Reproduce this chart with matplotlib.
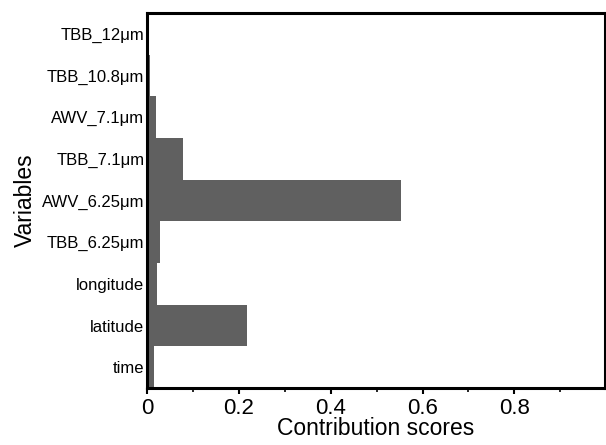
import matplotlib
matplotlib.use('Agg')
import matplotlib.pyplot as plt
from matplotlib.ticker import MultipleLocator

plt.rcParams['font.family'] = ['Liberation Sans', 'DejaVu Sans']

variables = ['time', 'latitude', 'longitude', 'TBB_6.25μm', 'AWV_6.25μm',
             'TBB_7.1μm', 'AWV_7.1μm', 'TBB_10.8μm', 'TBB_12μm']
scores = [0.015, 0.217, 0.022, 0.028, 0.554, 0.078, 0.019, 0.005, 0.003]
xticks = [0, 0.2, 0.4, 0.6, 0.8]
xticklabels = ['0', '0.2', '0.4', '0.6', '0.8']

fig = plt.figure(figsize=(6.06, 4.45), dpi=100)
ax = fig.add_axes([0.243, 0.128, 0.755, 0.843])

ax.barh(range(len(variables)), scores, height=1.0, color='#606060', edgecolor='none')

ax.set_yticks(range(len(variables)))
ax.set_yticklabels(variables, fontsize=12)
ax.set_ylim(-0.5, len(variables) - 0.5)
ax.set_xlim(0, 0.997)
ax.set_xticks(xticks)
ax.set_xticklabels(xticklabels, fontsize=16)
ax.xaxis.set_minor_locator(MultipleLocator(0.1))
ax.tick_params(axis='x', which='major', direction='out', length=4, width=1.5, pad=3)
ax.tick_params(axis='x', which='minor', direction='out', length=3, width=1.2)
ax.tick_params(axis='y', length=0, pad=2)

ax.set_xlabel('Contribution scores', fontsize=16.5, labelpad=-1)
ax.set_ylabel('Variables', fontsize=16.5, labelpad=4)

for s in ax.spines.values():
    s.set_linewidth(2.2)
    s.set_color('black')

fig.savefig('out.png', dpi=100, facecolor='white')
